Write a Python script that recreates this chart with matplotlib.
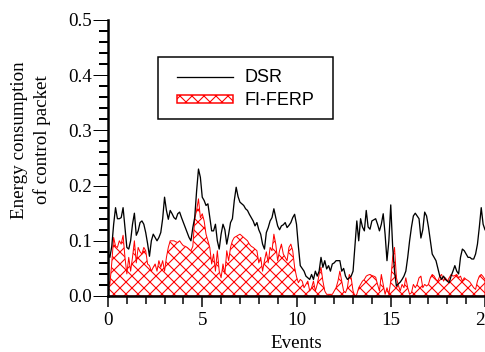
import numpy as np
import matplotlib
matplotlib.use("Agg")
import matplotlib.pyplot as plt
from matplotlib.ticker import MultipleLocator, FormatStrFormatter
from matplotlib.lines import Line2D
from matplotlib.patches import Rectangle

events = np.round(np.arange(0, 20.0001, 0.1), 1)

dsr = [
    0.078, 0.07, 0.09, 0.13, 0.16, 0.14, 0.14, 0.142, 0.16, 0.124,
    0.088, 0.085, 0.10, 0.13, 0.15, 0.11, 0.118, 0.133, 0.136, 0.13,
    0.115, 0.095, 0.072, 0.1, 0.112, 0.106, 0.1, 0.106, 0.115, 0.14,
    0.179, 0.155, 0.139, 0.155, 0.149, 0.142, 0.139, 0.149, 0.152, 0.142,
    0.133, 0.124, 0.115, 0.106, 0.10, 0.124, 0.142, 0.19, 0.23, 0.215,
    0.179, 0.173, 0.164, 0.167, 0.142, 0.118, 0.118, 0.13, 0.1, 0.085,
    0.112, 0.13, 0.12, 0.094, 0.112, 0.133, 0.14, 0.173, 0.197, 0.18,
    0.17, 0.167, 0.164, 0.158, 0.155, 0.148, 0.142, 0.136, 0.127, 0.133,
    0.12, 0.112, 0.094, 0.085, 0.115, 0.124, 0.136, 0.142, 0.158, 0.142,
    0.127, 0.12, 0.127, 0.129, 0.133, 0.124, 0.128, 0.133, 0.142, 0.148,
    0.13, 0.09, 0.055, 0.05, 0.045, 0.036, 0.033, 0.03, 0.039, 0.03,
    0.045, 0.036, 0.045, 0.07, 0.052, 0.064, 0.049, 0.055, 0.045, 0.058,
    0.06, 0.064, 0.064, 0.064, 0.045, 0.05, 0.036, 0.03, 0.033, 0.036,
    0.045, 0.09, 0.136, 0.1, 0.14, 0.125, 0.118, 0.155, 0.125, 0.121,
    0.136, 0.138, 0.14, 0.13, 0.118, 0.13, 0.149, 0.112, 0.064, 0.1,
    0.165, 0.09, 0.045, 0.018, 0.022, 0.025, 0.03, 0.036, 0.045, 0.07,
    0.10, 0.125, 0.145, 0.15, 0.145, 0.14, 0.105, 0.12, 0.152, 0.145,
    0.125, 0.1, 0.076, 0.07, 0.064, 0.05, 0.036, 0.03, 0.036, 0.03,
    0.027, 0.024, 0.036, 0.045, 0.055, 0.045, 0.04, 0.07, 0.085, 0.082,
    0.076, 0.07, 0.07, 0.067, 0.067, 0.076, 0.094, 0.125, 0.16, 0.13,
    0.12,
]

fi_ferp = [
    0.03, 0.021, 0.06, 0.106, 0.09, 0.088, 0.1, 0.094, 0.11, 0.07,
    0.04, 0.07, 0.045, 0.07, 0.1, 0.06, 0.088, 0.08, 0.076, 0.088,
    0.082, 0.058, 0.055, 0.045, 0.052, 0.058, 0.045, 0.064, 0.052, 0.064,
    0.045, 0.07, 0.088, 0.1, 0.1, 0.1, 0.098, 0.097, 0.1, 0.095,
    0.091, 0.09, 0.088, 0.085, 0.082, 0.09, 0.14, 0.155, 0.176, 0.142,
    0.149, 0.136, 0.112, 0.1, 0.088, 0.058, 0.076, 0.045, 0.082, 0.045,
    0.033, 0.058, 0.04, 0.082, 0.064, 0.088, 0.1, 0.106, 0.108, 0.11,
    0.112, 0.109, 0.106, 0.103, 0.1, 0.094, 0.09, 0.088, 0.085, 0.082,
    0.06, 0.07, 0.045, 0.064, 0.08, 0.06, 0.088, 0.082, 0.112, 0.094,
    0.064, 0.082, 0.094, 0.076, 0.07, 0.064, 0.088, 0.094, 0.082, 0.052,
    0.035, 0.024, 0.03, 0.027, 0.015, 0.021, 0.027, 0.009, 0.015, 0.027,
    0.009, 0.021, 0.039, 0.052, 0.027, 0.009, 0.003, 0.003, 0.003, 0.003,
    0.009, 0.015, 0.027, 0.045, 0.027, 0.009, 0.006, 0.015, 0.039, 0.033,
    0.009, 0.0, 0.003, 0.015, 0.021, 0.027, 0.03, 0.036, 0.038, 0.039,
    0.037, 0.036, 0.034, 0.021, 0.009, 0.039, 0.021, 0.003, 0.015, 0.003,
    0.027, 0.07, 0.088, 0.033, 0.02, 0.009, 0.021, 0.015, 0.033, 0.015,
    0.003, 0.006, 0.021, 0.015, 0.021, 0.033, 0.036, 0.015, 0.021, 0.018,
    0.021, 0.033, 0.039, 0.036, 0.03, 0.027, 0.036, 0.039, 0.027, 0.033,
    0.027, 0.033, 0.039, 0.036, 0.037, 0.039, 0.033, 0.036, 0.027, 0.033,
    0.03, 0.028, 0.025, 0.02, 0.015, 0.012, 0.027, 0.036, 0.039, 0.035,
    0.03,
]

series_names = ["DSR", "FI-FERP"]
x_label = "Events"
y_label = "Energy consumption\nof control packet"

# ---- figure ----
W, H, DPI = 485, 352, 72
plt.rcParams["hatch.linewidth"] = 1.1
fig = plt.figure(figsize=(W / DPI, H / DPI), dpi=DPI)
ax = fig.add_axes([108 / W, (H - 296) / H, 1 - 108 / W, (296 - 20) / H])

ax.fill_between(events, 0, fi_ferp, facecolor="none", edgecolor="red",
                hatch="xx", linewidth=1.0, zorder=2)
ax.plot(events, dsr, color="black", linewidth=1.3, zorder=3)

ax.set_xlim(0, 20)
ax.set_ylim(0, 0.5)

for s in ("top", "right"):
    ax.spines[s].set_visible(False)
for s in ("left", "bottom"):
    ax.spines[s].set_linewidth(2.5)

serif = ["Liberation Serif", "DejaVu Serif"]
ax.xaxis.set_major_locator(MultipleLocator(5))
ax.xaxis.set_minor_locator(MultipleLocator(1))
ax.yaxis.set_major_locator(MultipleLocator(0.1))
ax.yaxis.set_minor_locator(MultipleLocator(0.02))
ax.yaxis.set_major_formatter(FormatStrFormatter("%.1f"))

ax.tick_params(axis="x", which="major", direction="out", length=11, width=1.5, pad=5)
ax.tick_params(axis="x", which="minor", direction="out", length=8, width=1.5)
ax.tick_params(axis="y", which="major", direction="out", length=15, width=1.0, pad=1)
ax.tick_params(axis="y", which="minor", direction="out", length=9, width=2.0)
for lab in ax.get_xticklabels() + ax.get_yticklabels():
    lab.set_fontfamily(serif)
    lab.set_fontsize(19)

ax.set_xlabel(x_label, fontfamily=serif, fontsize=19, labelpad=6)
fig.text(31 / W, 1 - 140 / H, y_label, fontfamily=serif, fontsize=19,
         rotation=90, ha="center", va="center", linespacing=1.3,
         multialignment="center")

# ---- legend drawn in figure pixel space ----
def fx(px):
    return px / W

def fy(py):
    return 1 - py / H

sans = ["Liberation Sans", "DejaVu Sans"]
frame = Rectangle((fx(158), fy(119)), fx(333) - fx(158), fy(57) - fy(119),
                  transform=fig.transFigure, facecolor="white", edgecolor="black",
                  linewidth=1.5, zorder=5)
fig.add_artist(frame)
fig.add_artist(Line2D([fx(177), fx(233)], [fy(77), fy(77)], color="black",
                      linewidth=1.3, transform=fig.transFigure, zorder=6))
fig.add_artist(Rectangle((fx(177), fy(103)), fx(233) - fx(177), fy(95) - fy(103),
                         transform=fig.transFigure, facecolor="none", edgecolor="red",
                         hatch="xx", linewidth=1.5, zorder=6))
fig.text(fx(245), fy(78), series_names[0], fontfamily=sans, fontsize=18,
         ha="left", va="center", zorder=7)
fig.text(fx(245), fy(100), series_names[1], fontfamily=sans, fontsize=18,
         ha="left", va="center", zorder=7)

fig.savefig("out.png", dpi=DPI)
